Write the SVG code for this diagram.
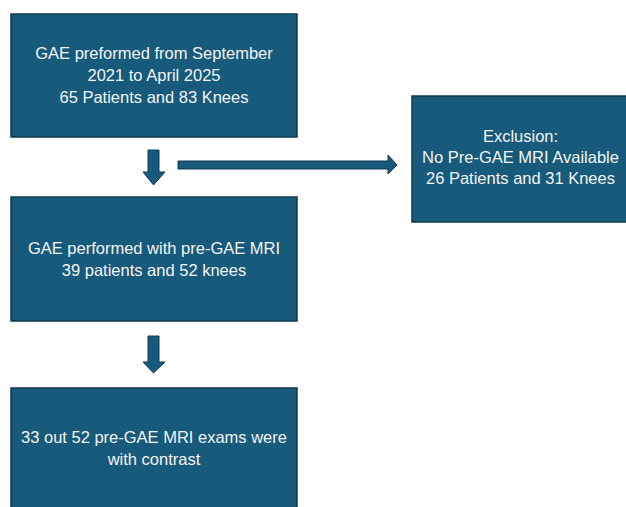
<svg xmlns="http://www.w3.org/2000/svg" width="626" height="507" viewBox="0 0 626 507">
<style>
.box{fill:#175a7c;stroke:#0f3b52;stroke-width:1.5}
.arr{fill:#175a7c;stroke:#0f3b52;stroke-width:1}
.t{font-family:"Liberation Sans",Arial,sans-serif;font-size:16.5px;fill:#f4f4f4;text-anchor:middle}
</style>
<rect width="626" height="507" fill="#ffffff"/>
<g id="node-start">
<rect class="box" x="11" y="14" width="286" height="123"/>
<text class="t" x="154" y="59">GAE preformed from September</text>
<text class="t" x="154" y="81">2021 to April 2025</text>
<text class="t" x="154" y="103">65 Patients and 83 Knees</text>
</g>
<g id="node-exclusion">
<rect class="box" x="412" y="96" width="220" height="126"/>
<text class="t" x="520.5" y="142">Exclusion:</text>
<text class="t" x="520.5" y="163">No Pre-GAE MRI Available</text>
<text class="t" x="520.5" y="184">26 Patients and 31 Knees</text>
</g>
<g id="node-mri">
<rect class="box" x="11" y="197" width="286" height="124"/>
<text class="t" x="154" y="254">GAE performed with pre-GAE MRI</text>
<text class="t" x="154" y="276">39 patients and 52 knees</text>
</g>
<g id="node-contrast">
<rect class="box" x="11" y="388" width="286" height="130"/>
<text class="t" x="154" y="443">33 out 52 pre-GAE MRI exams were</text>
<text class="t" x="154" y="465">with contrast</text>
</g>
<g id="connectors">
<polygon class="arr" points="148,150 159,150 159,172 165,172 153.5,185 143,172 148,172"/>
<polygon class="arr" points="178,161 388,161 388,155 397,165 388,174 388,169 178,169"/>
<polygon class="arr" points="148,336 159,336 159,362 165,362 153.5,373 143,362 148,362"/>
</g>
</svg>
